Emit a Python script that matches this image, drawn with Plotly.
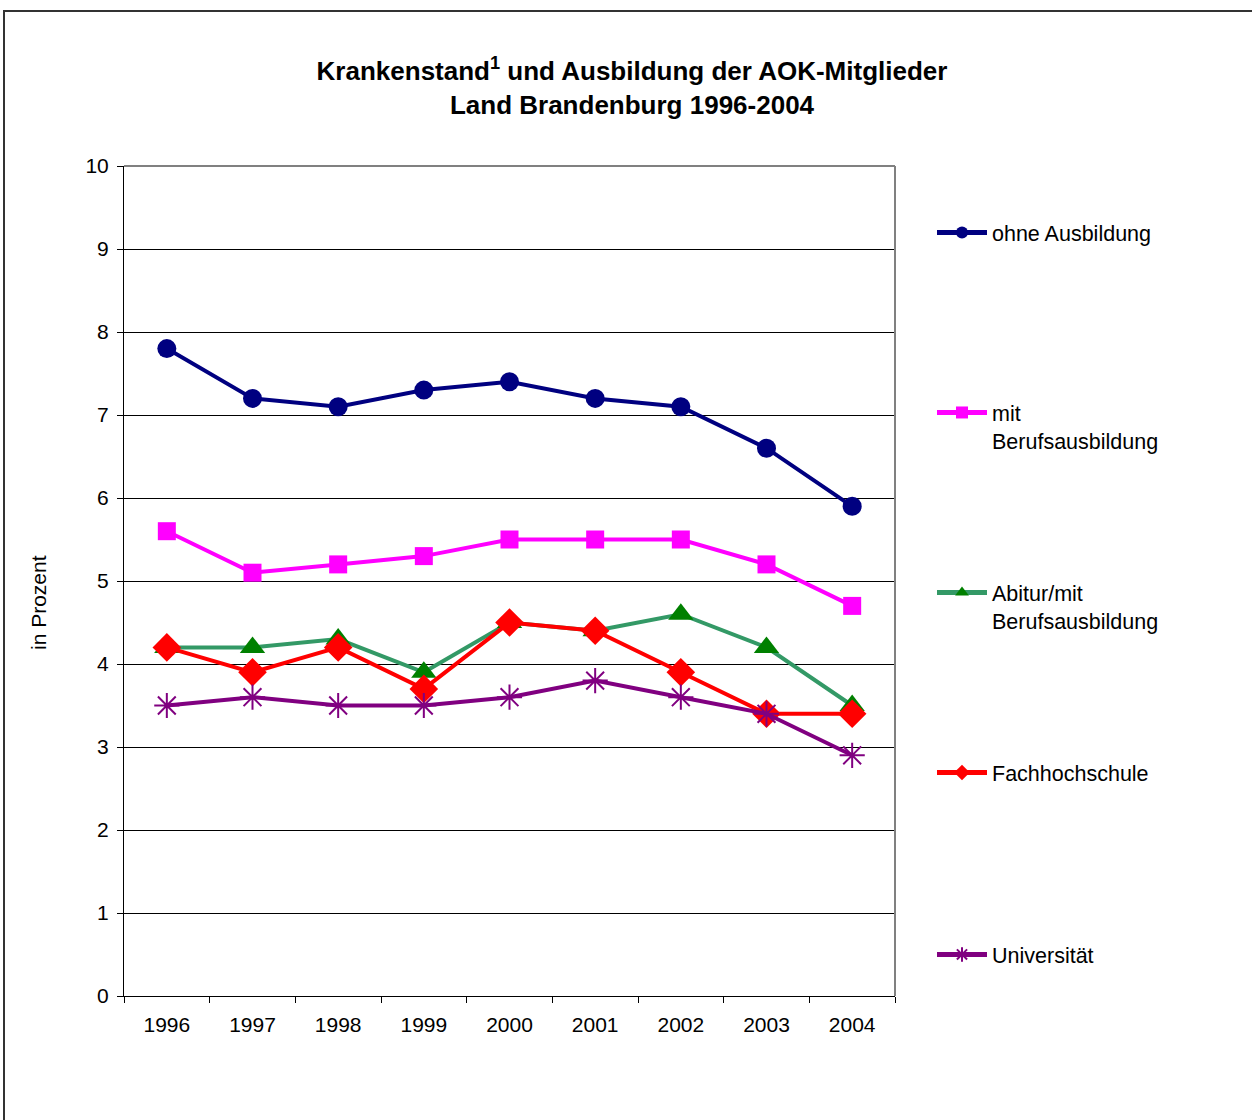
import plotly.graph_objects as go

# Krankenstand der AOK-Mitglieder nach Ausbildung, Land Brandenburg
years = ['1996', '1997', '1998', '1999', '2000', '2001', '2002', '2003', '2004']

ohne_ausbildung = [7.8, 7.2, 7.1, 7.3, 7.4, 7.2, 7.1, 6.6, 5.9]
mit_berufsausbildung = [5.6, 5.1, 5.2, 5.3, 5.5, 5.5, 5.5, 5.2, 4.7]
abitur_mit_berufsausbildung = [4.2, 4.2, 4.3, 3.9, 4.5, 4.4, 4.6, 4.2, 3.5]
fachhochschule = [4.2, 3.9, 4.2, 3.7, 4.5, 4.4, 3.9, 3.4, 3.4]
universitaet = [3.5, 3.6, 3.5, 3.5, 3.6, 3.8, 3.6, 3.4, 2.9]

series_names = ['ohne Ausbildung', 'mit<br>Berufsausbildung', 'Abitur/mit<br>Berufsausbildung',
                'Fachhochschule', 'Universität']

W, H = 1252, 1120
L, R, T, B = 124, 357, 166, 124
pw, ph = W - L - R, H - T - B


def px_x(x):
    # pixel -> paper coordinate
    return (x - L) / pw


def px_y(y):
    return (H - B - y) / ph


FONT = 'Liberation Sans, Arial, sans-serif'

fig = go.Figure()

styles = [
    (ohne_ausbildung, '#000080', '#000080', 'circle', 19, 0),
    (mit_berufsausbildung, '#FF00FF', '#FF00FF', 'square', 18, 0),
    (abitur_mit_berufsausbildung, '#339966', '#008000', 'triangle-up', 22, 0),
    (fachhochschule, '#FF0000', '#FF0000', 'diamond', 22, 0),
    (universitaet, '#800080', '#800080', 'asterisk-open', 21, 2),
]

legend_ids = ['legend', 'legend2', 'legend3', 'legend4', 'legend5']
legend_rows = [233, 413, 593, 773, 955]

for i, (vals, lcol, mcol, sym, size, mlw) in enumerate(styles):
    fig.add_trace(go.Scatter(
        x=years, y=vals, name=series_names[i], mode='lines+markers',
        line=dict(color=lcol, width=4),
        marker=dict(symbol=sym, size=size, color=mcol,
                    line=dict(color=mcol, width=mlw)),
        legend=legend_ids[i], showlegend=True,
    ))

legend_cfg = {}
for lid, row in zip(legend_ids, legend_rows):
    legend_cfg[lid] = dict(
        x=px_x(932), y=px_y(row - 21), xanchor='left', yanchor='top',
        bgcolor='rgba(0,0,0,0)', valign='top', itemsizing='constant', itemwidth=50,
        font=dict(family=FONT, size=21.5, color='#000000'),
        visible=True,
    )

fig.update_layout(
    width=W, height=H,
    margin=dict(l=L, r=R, t=T, b=B),
    showlegend=True,
    paper_bgcolor='white', plot_bgcolor='white',
    title=dict(
        text='Krankenstand<sup>1</sup> und Ausbildung der AOK-Mitglieder<br>Land Brandenburg 1996-2004',
        x=632 / W, xref='container', xanchor='center', y=1 - 80 / H, yanchor='middle',
        font=dict(family=FONT, size=26, color='#000000', weight='bold'),
    ),
    xaxis=dict(
        type='category', range=[-0.5, 8.5], tickson='boundaries',
        ticks='outside', ticklen=6, tickcolor='#000000',
        showline=True, linecolor='#000000', linewidth=1,
        showgrid=False, ticklabelstandoff=10,
        tickfont=dict(family=FONT, size=21, color='#000000'),
    ),
    yaxis=dict(
        range=[0, 10], dtick=1, ticks='outside', ticklen=6, tickcolor='#000000',
        showline=True, linecolor='#000000', linewidth=1,
        showgrid=True, gridcolor='#000000', gridwidth=1,
        zeroline=False, ticklabelstandoff=4,
        tickfont=dict(family=FONT, size=21, color='#000000'),
    ),
    annotations=[
        dict(text='in Prozent', xref='paper', yref='paper', x=px_x(38), y=px_y(603),
             xanchor='center', yanchor='middle', showarrow=False, textangle=-90,
             font=dict(family=FONT, size=21, color='#000000')),
    ],
    shapes=[
        # grey plot-area border (top and right)
        dict(type='line', xref='paper', yref='paper', x0=0, x1=1, y0=1, y1=1,
             line=dict(color='#808080', width=2)),
        dict(type='line', xref='paper', yref='paper', x0=1, x1=1, y0=0, y1=1,
             line=dict(color='#808080', width=2)),
        # outer chart frame
        dict(type='rect', xref='paper', yref='paper',
             x0=px_x(4), x1=px_x(W + 30), y0=px_y(H + 30), y1=px_y(11),
             line=dict(color='#333333', width=2)),
    ],
    **legend_cfg,
)

# the default page margin would push the figure 8px in from the corner
fig.write_html('out.html', config={'displayModeBar': False},
               post_script="document.body.style.margin='0px';")
